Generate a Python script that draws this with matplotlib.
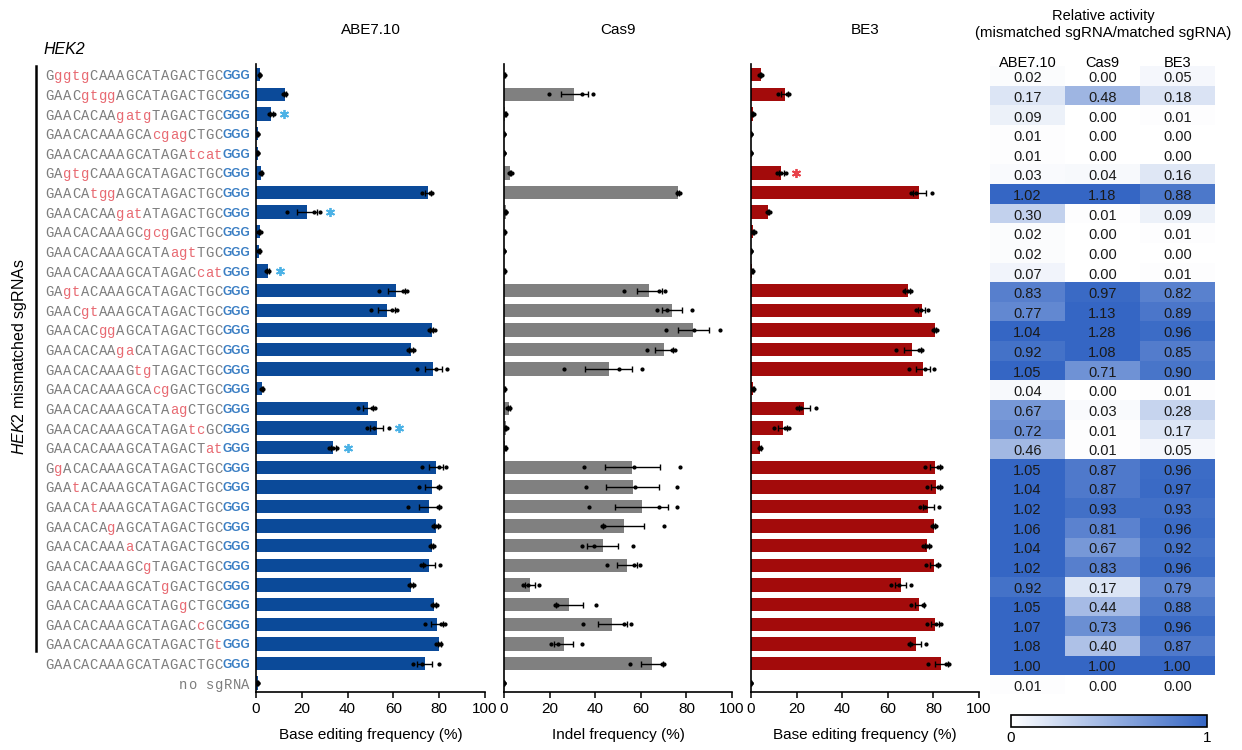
import numpy as np
import matplotlib
matplotlib.use("Agg")
import matplotlib.pyplot as plt
from matplotlib.colors import LinearSegmentedColormap
from matplotlib.transforms import blended_transform_factory
from matplotlib.lines import Line2D

plt.rcParams["font.family"] = ["Liberation Sans", "DejaVu Sans"]
plt.rcParams["mathtext.fontset"] = "custom"
plt.rcParams["mathtext.rm"] = "Liberation Sans"
plt.rcParams["mathtext.it"] = "Liberation Sans:italic"

# ── sgRNA protospacers (lowercase = mismatched bases) ─────────────────────────
sgrnas = [
    "GggtgCAAAGCATAGACTGC", "GAACgtggAGCATAGACTGC", "GAACACAAgatgTAGACTGC",
    "GAACACAAAGCAcgagCTGC", "GAACACAAAGCATAGAtcat", "GAgtgCAAAGCATAGACTGC",
    "GAACAtggAGCATAGACTGC", "GAACACAAgatATAGACTGC", "GAACACAAAGCgcgGACTGC",
    "GAACACAAAGCATAagtTGC", "GAACACAAAGCATAGACcat", "GAgtACAAAGCATAGACTGC",
    "GAACgtAAAGCATAGACTGC", "GAACACggAGCATAGACTGC", "GAACACAAgaCATAGACTGC",
    "GAACACAAAGtgTAGACTGC", "GAACACAAAGCAcgGACTGC", "GAACACAAAGCATAagCTGC",
    "GAACACAAAGCATAGAtcGC", "GAACACAAAGCATAGACTat", "GgACACAAAGCATAGACTGC",
    "GAAtACAAAGCATAGACTGC", "GAACAtAAAGCATAGACTGC", "GAACACAgAGCATAGACTGC",
    "GAACACAAAaCATAGACTGC", "GAACACAAAGCgTAGACTGC", "GAACACAAAGCATgGACTGC",
    "GAACACAAAGCATAGgCTGC", "GAACACAAAGCATAGACcGC", "GAACACAAAGCATAGACTGt",
    "GAACACAAAGCATAGACTGC",
]
no_guide_label = "no sgRNA"

# ── replicate measurements (%), one row per sgRNA + no-sgRNA control ─────────
abe_reps = [
    [1.2, 1.6, 1.8], [12.0, 12.8, 13.2], [5.5, 6.5, 7.8], [0.5, 0.7, 0.9],
    [0.4, 0.7, 0.9], [1.8, 2.4, 2.8], [72.5, 75.8, 77.0], [13.5, 25.5, 27.8],
    [1.0, 1.5, 2.2], [1.0, 1.4, 1.8], [4.5, 5.0, 5.8], [53.8, 64.2, 66.0],
    [50.0, 59.5, 61.5], [75.5, 76.8, 78.0], [66.2, 67.5, 69.0], [70.5, 78.5, 83.5],
    [2.3, 2.8, 3.2], [44.5, 50.5, 52.0], [48.5, 51.5, 58.0], [32.0, 33.8, 35.5],
    [72.5, 80.0, 82.8], [71.0, 79.5, 80.5], [66.5, 79.5, 80.5], [77.5, 78.5, 79.8],
    [75.8, 77.0, 77.8], [72.0, 73.5, 80.5], [67.0, 67.8, 68.8], [76.8, 78.0, 79.0],
    [74.0, 81.0, 82.5], [78.8, 80.0, 81.0], [68.5, 72.5, 80.0], [0.4, 0.7, 0.9],
]
cas9_reps = [
    [0.1, 0.2, 0.3], [19.6, 34.0, 38.9], [0.3, 0.5, 0.8], [0.0, 0.1, 0.2],
    [0.0, 0.1, 0.2], [2.2, 2.8, 3.4], [75.8, 76.5, 77.2], [0.4, 0.7, 1.0],
    [0.1, 0.2, 0.3], [0.0, 0.1, 0.2], [0.1, 0.2, 0.3], [52.8, 67.8, 70.5],
    [67.2, 71.5, 82.3], [71.0, 83.5, 94.8], [62.5, 73.5, 74.9], [26.5, 50.5, 60.5],
    [0.1, 0.2, 0.3], [1.2, 2.0, 2.8], [0.3, 0.8, 1.2], [0.3, 0.6, 0.9],
    [35.0, 56.8, 77.2], [36.0, 57.3, 75.8], [37.3, 67.8, 75.9], [43.2, 44.0, 70.3],
    [34.0, 39.5, 56.5], [45.0, 57.0, 59.5], [8.2, 10.5, 15.5], [22.5, 23.3, 40.2],
    [34.6, 52.5, 55.5], [20.8, 23.5, 34.3], [55.2, 70.3, 69.5], [0.0, 0.1, 0.2],
]
be3_reps = [
    [3.6, 4.2, 4.8], [11.8, 15.8, 16.8], [0.4, 0.7, 1.1], [0.0, 0.1, 0.2],
    [0.0, 0.1, 0.2], [11.5, 13.0, 15.2], [70.0, 72.3, 79.2], [7.0, 7.6, 8.2],
    [0.6, 1.0, 1.6], [0.0, 0.1, 0.2], [0.3, 0.6, 0.9], [67.0, 68.8, 70.3],
    [72.5, 74.5, 77.5], [79.8, 80.6, 81.4], [63.5, 73.5, 75.2], [69.5, 76.5, 80.2],
    [0.5, 0.9, 1.3], [20.0, 22.0, 28.3], [10.2, 15.0, 16.5], [3.5, 4.0, 4.5],
    [76.5, 82.0, 83.3], [77.2, 82.2, 83.5], [74.2, 76.5, 82.4], [79.5, 80.5, 81.2],
    [75.5, 77.0, 78.5], [76.8, 81.5, 82.6], [61.5, 65.0, 70.3], [70.0, 75.5, 76.0],
    [77.2, 81.2, 83.4], [69.5, 70.2, 76.9], [77.8, 85.7, 86.7], [0.0, 0.1, 0.2],
]

# rows flagged with an asterisk
abe_star_rows = [2, 7, 10, 18, 19]
be3_star_rows = [5]

# ── relative activity (mismatched / matched) ─────────────────────────────────
rel_labels = ["ABE7.10", "Cas9", "BE3"]
rel_abe = [0.02, 0.17, 0.09, 0.01, 0.01, 0.03, 1.02, 0.30, 0.02, 0.02, 0.07,
           0.83, 0.77, 1.04, 0.92, 1.05, 0.04, 0.67, 0.72, 0.46, 1.05, 1.04,
           1.02, 1.06, 1.04, 1.02, 0.92, 1.05, 1.07, 1.08, 1.00, 0.01]
rel_cas9 = [0.00, 0.48, 0.00, 0.00, 0.00, 0.04, 1.18, 0.01, 0.00, 0.00, 0.00,
            0.97, 1.13, 1.28, 1.08, 0.71, 0.00, 0.03, 0.01, 0.01, 0.87, 0.87,
            0.93, 0.81, 0.67, 0.83, 0.17, 0.44, 0.73, 0.40, 1.00, 0.00]
rel_be3 = [0.05, 0.18, 0.01, 0.00, 0.00, 0.16, 0.88, 0.09, 0.01, 0.00, 0.01,
           0.82, 0.89, 0.96, 0.85, 0.90, 0.01, 0.28, 0.17, 0.05, 0.96, 0.97,
           0.93, 0.96, 0.92, 0.96, 0.79, 0.88, 0.96, 0.87, 1.00, 0.00]

# ── layout helpers (pixel coordinates on a 1242x750 canvas) ──────────────────
W, H = 1242, 750
fig = plt.figure(figsize=(W / 100, H / 100), dpi=100)


def px_box(x0, y0, x1, y1):
    return [x0 / W, 1 - y1 / H, (x1 - x0) / W, (y1 - y0) / H]


n_rows = len(sgrnas) + 1
rows = np.arange(n_rows)
ylim = (n_rows - 1 + 0.45, -0.55)
AX_TOP, AX_BOT = 64, 692

panels = [
    ("ABE7.10", abe_reps, "#0b4a99", (256, 485), "Base editing frequency (%)", abe_star_rows, "#4cb2e6"),
    ("Cas9", cas9_reps, "#808080", (504, 732), "Indel frequency (%)", [], None),
    ("BE3", be3_reps, "#a30b0b", (751, 979), "Base editing frequency (%)", be3_star_rows, "#e8424a"),
]

bar_axes = []
for title, reps, color, (x0, x1), xlabel, star_rows, star_color in panels:
    ax = fig.add_axes(px_box(x0, AX_TOP, x1, AX_BOT))
    reps = np.asarray(reps)
    mean = reps.mean(axis=1)
    sem = reps.std(axis=1, ddof=1) / np.sqrt(reps.shape[1])

    ax.barh(rows, mean, height=0.68, color=color, zorder=1)
    ax.errorbar(mean, rows, xerr=sem, fmt="none", ecolor="black",
                elinewidth=1.0, capsize=2.4, capthick=1.0, zorder=3)
    for k in range(reps.shape[1]):
        ax.plot(reps[:, k], rows, "o", ms=2.0, color="black", zorder=4)
    for r in star_rows:
        ax.plot(reps[r].max() + 4.5, r, marker=(6, 2, 0), ms=6.5, mew=1.3,
                color=star_color, zorder=5)

    ax.set_xlim(0, 100)
    ax.set_ylim(*ylim)
    ax.set_xticks(range(0, 101, 20))
    ax.set_yticks([])
    ax.tick_params(axis="x", labelsize=11, length=4, width=1.1, pad=3)
    ax.spines[["top", "right"]].set_visible(False)
    ax.spines[["left", "bottom"]].set_linewidth(1.2)
    ax.set_xlabel(xlabel, fontsize=11, labelpad=9)
    fig.text((x0 + x1) / 2 / W, 1 - 30 / H, title, ha="center", va="center", fontsize=11)
    bar_axes.append(ax)

# ── sgRNA labels: monospace protospacer + bold PAM ──────────────────────────
trans = blended_transform_factory(fig.transFigure, bar_axes[0].transData)
SEQ_X0, CW, PAM_RIGHT = 45, 8.885, 250
for r, seq in enumerate(sgrnas):
    for i, ch in enumerate(seq):
        fig.text((SEQ_X0 + (i + 0.5) * CW) / W, r, ch, transform=trans,
                 ha="center", va="center_baseline", fontsize=10,
                 family="Liberation Mono",
                 color="#e86a72" if ch.islower() else "#7d7d7d")
    fig.text(PAM_RIGHT / W, r, "GGG", transform=trans, ha="right",
             va="center_baseline", fontsize=8.6, fontweight="bold", color="#3b7fc4")

for i, ch in enumerate(no_guide_label):
    xc = PAM_RIGHT - (len(no_guide_label) - i - 0.5) * CW
    fig.text(xc / W, n_rows - 1, ch, transform=trans, ha="center",
             va="center_baseline", fontsize=10, family="Liberation Mono", color="#7d7d7d")

# bracket for the mismatched guides
fig.add_artist(Line2D([36 / W, 36 / W], [1 - 66 / H, 1 - 651 / H], color="black", lw=1.8))
fig.text(20 / W, 1 - 357 / H, r"$\it{HEK2}$ mismatched sgRNAs", rotation=90,
         ha="center", va="center", fontsize=11.5)
fig.text(43 / W, 1 - 50 / H, "HEK2", style="italic", ha="left", va="center", fontsize=11.5)

# ── relative activity heatmap ────────────────────────────────────────────────
cmap = LinearSegmentedColormap.from_list("rel", ["#ffffff", "#3566c4"])
rel = np.column_stack([rel_abe, rel_cas9, rel_be3])

hm = fig.add_axes(px_box(990, AX_TOP + 2, 1215, AX_BOT + 2))
im = hm.imshow(rel, cmap=cmap, vmin=0, vmax=1, aspect="auto",
               extent=(0, 3, n_rows - 0.5, -0.5), interpolation="nearest")
hm.set_xlim(0, 3)
hm.set_ylim(*ylim)
hm.axis("off")
for r in range(n_rows):
    for c in range(3):
        hm.text(c + 0.5, r, f"{rel[r, c]:.2f}", ha="center", va="center_baseline",
                fontsize=10.5, color="#1a1a1a")

for c, name in enumerate(rel_labels):
    fig.text((990 + (c + 0.5) * 75) / W, 1 - 63 / H, name, ha="center",
             va="center", fontsize=10.5)
fig.text(1103 / W, 1 - 16 / H, "Relative activity", ha="center", va="center", fontsize=10.5)
fig.text(1103 / W, 1 - 33 / H, "(mismatched sgRNA/matched sgRNA)", ha="center",
         va="center", fontsize=10.8)

cax = fig.add_axes(px_box(1011, 715, 1207, 727))
cb = fig.colorbar(im, cax=cax, orientation="horizontal", ticks=[0, 1])
cb.outline.set_linewidth(1.2)
cax.tick_params(length=0, labelsize=11, pad=3)

fig.savefig("out.png", dpi=100)
